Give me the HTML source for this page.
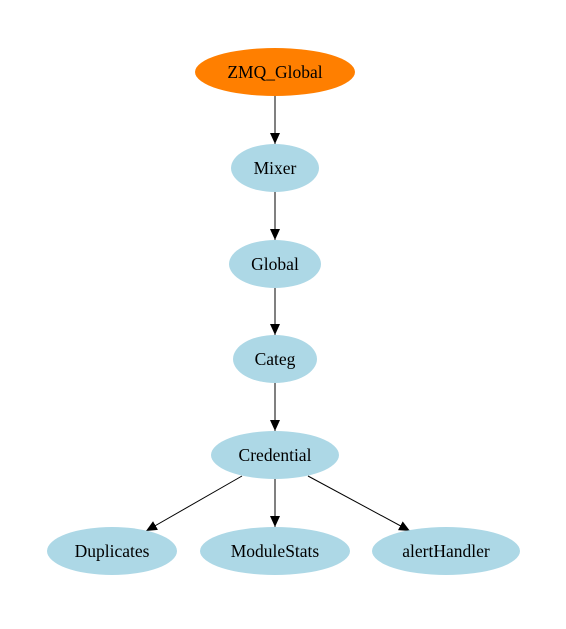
<!DOCTYPE html>
<html><head><meta charset="utf-8"><style>html,body{margin:0;padding:0;background:#fff}</style></head>
<body>
<svg width="566" height="624" viewBox="0 0 566 624" xmlns="http://www.w3.org/2000/svg" font-family="'Liberation Serif', serif" font-size="17.5">
<defs>
<marker id="a" markerWidth="11" markerHeight="10" refX="11" refY="5" orient="auto" markerUnits="userSpaceOnUse">
<path d="M0,0 L11,5 L0,10 Z" fill="#000"/>
</marker>
</defs>
<g stroke="#000" stroke-width="1" marker-end="url(#a)">
<line x1="275" y1="96" x2="275" y2="144"/>
<line x1="275" y1="192" x2="275" y2="240"/>
<line x1="275" y1="288" x2="275" y2="335"/>
<line x1="275" y1="383" x2="275" y2="431"/>
<line x1="242" y1="476" x2="146" y2="531"/>
<line x1="275" y1="479" x2="275" y2="527"/>
<line x1="308" y1="476" x2="410" y2="531"/>
</g>
<ellipse cx="275" cy="72" rx="80" ry="24" fill="#ff7f00"/>
<ellipse cx="275" cy="168" rx="44" ry="24" fill="#add8e6"/>
<ellipse cx="275" cy="264" rx="46" ry="24" fill="#add8e6"/>
<ellipse cx="275" cy="359" rx="42" ry="24" fill="#add8e6"/>
<ellipse cx="275" cy="455" rx="64" ry="24" fill="#add8e6"/>
<ellipse cx="112" cy="551" rx="65" ry="24" fill="#add8e6"/>
<ellipse cx="275" cy="551" rx="75" ry="24" fill="#add8e6"/>
<ellipse cx="446" cy="551" rx="74" ry="24" fill="#add8e6"/>
<g text-anchor="middle" fill="#000">
<text x="275" y="78">ZMQ_Global</text>
<text x="275" y="174">Mixer</text>
<text x="275" y="270">Global</text>
<text x="275" y="365">Categ</text>
<text x="275" y="461">Credential</text>
<text x="112" y="557">Duplicates</text>
<text x="275" y="557">ModuleStats</text>
<text x="446" y="557">alertHandler</text>
</g>
</svg>
</body></html>
